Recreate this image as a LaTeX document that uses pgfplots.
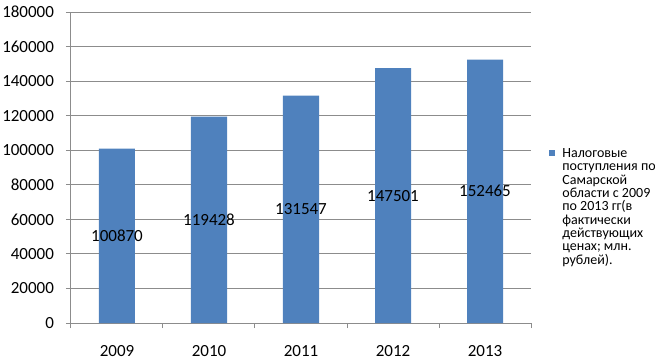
\documentclass[border=0pt]{standalone}
\usepackage{fontspec}
\setmainfont{Carlito}
\usepackage{pgfplots}
\usepackage{pgfplotstable}
\pgfplotsset{compat=1.18}
\definecolor{barblue}{HTML}{4F81BD}
\definecolor{gridgray}{HTML}{8C8C8C}
\pgfplotstableread{
x y
0 100870
1 119428
2 131547
3 147501
4 152465
}\datatable
\begin{document}
\begin{tikzpicture}
\useasboundingbox (-53.25pt,-28.5pt) rectangle (438pt,242.25pt);
\begin{axis}[
  at={(0,0)}, anchor=south west,
  scale only axis, width=345pt, height=233.25pt,
  xmin=-0.5, xmax=4.5, ymin=0, ymax=180000,
  ytick={0,20000,40000,60000,80000,100000,120000,140000,160000,180000},
  yticklabels={0,20000,40000,60000,80000,100000,120000,140000,160000,180000},
  xtick={0,1,2,3,4}, xticklabels={2009,2010,2011,2012,2013},
  minor xtick={-0.5,0.5,1.5,2.5,3.5,4.5},
  major x tick style={draw=none},
  ymajorgrids, grid style={gridgray, line width=0.75pt},
  axis x line*=bottom, axis y line*=left,
  axis line style={gridgray, line width=0.75pt, -},
  tick style={gridgray, line width=0.75pt},
  tick align=outside, major tick length=3.75pt, minor tick length=3.75pt,
  ticklabel style={font=\fontsize{12.75pt}{14pt}\selectfont, text=black},
  xticklabel style={yshift=-9.5pt},
  yticklabel style={xshift=-5.5pt},
  scaled y ticks=false,
  legend style={at={(1.03,0.579)}, anchor=north west, draw=none, fill=none,
    font=\fontsize{10.5pt}{10pt}\selectfont, align=left},
  legend cell align=left,
  legend image code/.code={\fill[barblue, draw=none] (0pt,38.5pt) rectangle (4.5pt,43pt); \path[draw=none, fill=none] (0pt,40pt) -- (8pt,40pt);},
]
\addplot[ybar, bar width=27pt, bar shift=0pt, fill=barblue, draw=none]
  table[x=x, y=y]{\datatable};
\addlegendentry{Налоговые\\поступления по\\Самарской\\области с 2009\\по 2013 гг(в\\фактически\\действующих\\ценах; млн.\\рублей).}
\addplot[forget plot, only marks, mark=none,
  point meta=explicit symbolic,
  nodes near coords={\pgfplotspointmeta},
  every node near coord/.style={anchor=center, font=\fontsize{12.75pt}{14pt}\selectfont, text=black}]
  table[x=x, y expr=\thisrow{y}/2, meta=y]{\datatable};
\end{axis}
\end{tikzpicture}
\end{document}
